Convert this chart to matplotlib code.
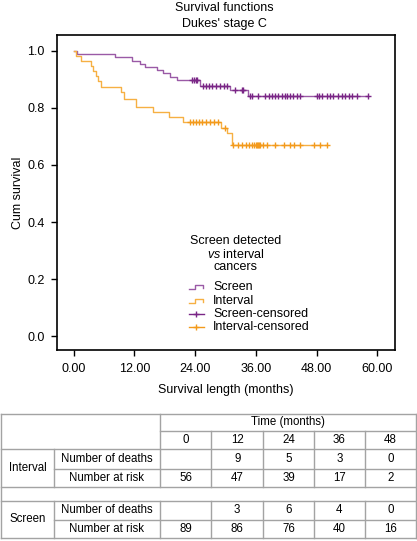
import numpy as np
import matplotlib.pyplot as plt
from matplotlib.lines import Line2D

plt.rcParams["font.family"] = ["Liberation Sans", "DejaVu Sans"]
plt.rcParams["mathtext.fontset"] = "custom"
plt.rcParams["mathtext.it"] = "Liberation Sans:italic"
plt.rcParams["mathtext.rm"] = "Liberation Sans"

# --- Kaplan-Meier steps ---
screen_t = [0, 0.6, 8.2, 11.5, 13.1, 14.1, 16.4, 17.7, 19.0, 20.4, 25.0, 30.9, 34.5]
screen_s = [1.0, 0.989, 0.978, 0.966, 0.955, 0.944, 0.933, 0.921, 0.910, 0.899,
            0.876, 0.864, 0.841]
screen_cens = [23.3, 23.7, 24.1, 24.4, 25.6, 26.2, 26.8, 27.4, 28.1, 28.9, 29.7,
               30.3, 31.9, 33.2, 33.5, 34.9, 35.3, 36.5, 37.8, 38.5, 39.1, 39.8,
               40.4, 41.1, 41.7, 42.1, 42.7, 43.4, 44.1, 44.7, 48.0, 48.5, 49.0,
               50.0, 50.6, 51.3, 52.3, 53.0, 53.7, 54.4, 55.0, 55.9, 58.2]

interval_t = [0, 0.4, 1.5, 3.5, 3.9, 4.5, 4.9, 5.3, 9.4, 9.9, 12.3, 15.7, 18.8,
              21.7, 29.2, 30.3, 31.3]
interval_s = [1.0, 0.982, 0.964, 0.946, 0.929, 0.911, 0.893, 0.875, 0.857, 0.830,
              0.804, 0.786, 0.768, 0.750, 0.731, 0.712, 0.670]
interval_cens = [23.0, 23.6, 24.2, 24.8, 25.4, 26.1, 26.9, 27.7, 28.5, 30.0,
                 31.5, 32.5, 33.3, 34.1, 34.7, 35.2, 35.6, 36.0, 36.2, 36.4,
                 36.6, 36.8, 37.4, 38.2, 39.8, 41.6, 42.7, 43.5, 44.7, 47.5,
                 48.7, 50.1]

# --- Number-at-risk table ---
time_points = [0, 12, 24, 36, 48]
interval_deaths = [None, 9, 5, 3, 0]
interval_at_risk = [56, 47, 39, 17, 2]
screen_deaths = [None, 3, 6, 4, 0]
screen_at_risk = [89, 86, 76, 40, 16]

purple_line, purple_mark = "#9a5aa6", "#7a2686"
orange_line, orange_mark = "#f6b043", "#f39a1c"

W, H = 417, 541
fig = plt.figure(figsize=(W / 100, H / 100), dpi=100)
ax = fig.add_axes([57 / W, 1 - 350 / H, 338 / W, 315 / H])


def km_curve(ax, t, s, cens, line_color, mark_color):
    xs = list(t) + [max(cens)]
    ys = list(s) + [s[-1]]
    ax.step(xs, ys, where="post", color=line_color, lw=1.0)
    idx = np.searchsorted(t, cens, side="right") - 1
    ax.plot(cens, np.array(s)[idx], ls="none", marker="+", ms=4.2, mew=1.0,
            color=mark_color)


km_curve(ax, screen_t, screen_s, screen_cens, purple_line, purple_mark)
km_curve(ax, interval_t, interval_s, interval_cens, orange_line, orange_mark)

ax.set_xlim(-3.3, 63.5)
ax.set_ylim(-0.049, 1.056)
ax.set_xticks([0, 12, 24, 36, 48, 60])
ax.set_xticklabels([f"{v:.2f}" for v in [0, 12, 24, 36, 48, 60]])
ax.set_yticks([0, 0.2, 0.4, 0.6, 0.8, 1.0])
ax.set_yticklabels([f"{v:.1f}" for v in [0, 0.2, 0.4, 0.6, 0.8, 1.0]])
ax.tick_params(direction="out", length=4, width=1, labelsize=9, pad=5)
for sp in ax.spines.values():
    sp.set_linewidth(1.2)

ax.set_xlabel("Survival length (months)", fontsize=9)
ax.xaxis.set_label_coords(0.5, -0.127)
ax.xaxis.label.set_va("center")
ax.set_ylabel("Cum survival", fontsize=9)
ax.yaxis.set_label_coords(-0.115, 0.5)
ax.yaxis.label.set_va("center")

fig.text(224 / W, 1 - 8 / H, "Survival functions", ha="center", va="center", fontsize=9)
fig.text(224 / W, 1 - 24 / H, "Dukes' stage C", ha="center", va="center", fontsize=9)

# overlay in pixel coordinates for legend and table
ov = fig.add_axes([0, 0, 1, 1], facecolor="none")
ov.set_xlim(0, W)
ov.set_ylim(H, 0)
ov.axis("off")

# legend
for y, txt in zip([241, 254, 267], ["Screen detected", r"$\it{vs}$ interval", "cancers"]):
    ov.text(236, y, txt, ha="center", va="center", fontsize=9)
entries = [("Screen", purple_line, False), ("Interval", orange_line, False),
           ("Screen-censored", purple_mark, True), ("Interval-censored", orange_mark, True)]
for (label, col, cens), y in zip(entries, [287, 301, 314, 327]):
    if cens:
        ov.add_line(Line2D([189, 204], [y, y], color=col, lw=1))
        ov.plot([196.5], [y], marker="+", ms=5, mew=1, color=col)
    else:
        ov.add_line(Line2D([189, 195, 195, 203, 203], [y + 2, y + 2, y - 2, y - 2, y + 1],
                           color=col, lw=1))
    ov.text(213, y, label, ha="left", va="center", fontsize=9)

# table
gc = "#a3a3a3"
cols = [1, 54, 160, 211.5, 263, 314, 365, 416]
ys = [413.5, 431, 448.5, 468.5, 487, 501, 519.5, 538]


def hl(y, x0, x1):
    ov.add_line(Line2D([x0, x1], [y, y], color=gc, lw=1))


def vl(x, y0, y1):
    ov.add_line(Line2D([x, x], [y0, y1], color=gc, lw=1))


hl(ys[0], cols[0], cols[-1])
hl(ys[1], cols[2], cols[-1])
hl(ys[2], cols[0], cols[-1])
hl(ys[3], cols[1], cols[-1])
hl(ys[4], cols[0], cols[-1])
hl(ys[5], cols[0], cols[-1])
hl(ys[6], cols[1], cols[-1])
hl(ys[7], cols[0], cols[-1])
vl(cols[0], ys[0], ys[7])
vl(cols[-1], ys[0], ys[7])
vl(cols[2], ys[0], ys[4])
vl(cols[2], ys[5], ys[7])
vl(cols[1], ys[2], ys[4])
vl(cols[1], ys[5], ys[7])
for x in cols[3:-1]:
    vl(x, ys[1], ys[4])
    vl(x, ys[5], ys[7])

fs = 8.3
ov.text((cols[2] + cols[-1]) / 2, (ys[0] + ys[1]) / 2, "Time (months)", ha="center", va="center", fontsize=fs)
centers = [(cols[i] + cols[i + 1]) / 2 for i in range(2, 7)]
for cx, tp in zip(centers, time_points):
    ov.text(cx, (ys[1] + ys[2]) / 2, str(tp), ha="center", va="center", fontsize=fs)

groups = [("Interval", interval_deaths, interval_at_risk, ys[2], ys[3], ys[4]),
          ("Screen", screen_deaths, screen_at_risk, ys[5], ys[6], ys[7])]
for name, deaths, risk, y0, ym, y1 in groups:
    ov.text((cols[0] + cols[1]) / 2, (y0 + y1) / 2, name, ha="center", va="center", fontsize=fs)
    ov.text((cols[1] + cols[2]) / 2, (y0 + ym) / 2, "Number of deaths", ha="center", va="center", fontsize=fs)
    ov.text((cols[1] + cols[2]) / 2, (ym + y1) / 2, "Number at risk", ha="center", va="center", fontsize=fs)
    for cx, d, r in zip(centers, deaths, risk):
        if d is not None:
            ov.text(cx, (y0 + ym) / 2, str(d), ha="center", va="center", fontsize=fs)
        ov.text(cx, (ym + y1) / 2, str(r), ha="center", va="center", fontsize=fs)

fig.savefig("out.png", dpi=100)
